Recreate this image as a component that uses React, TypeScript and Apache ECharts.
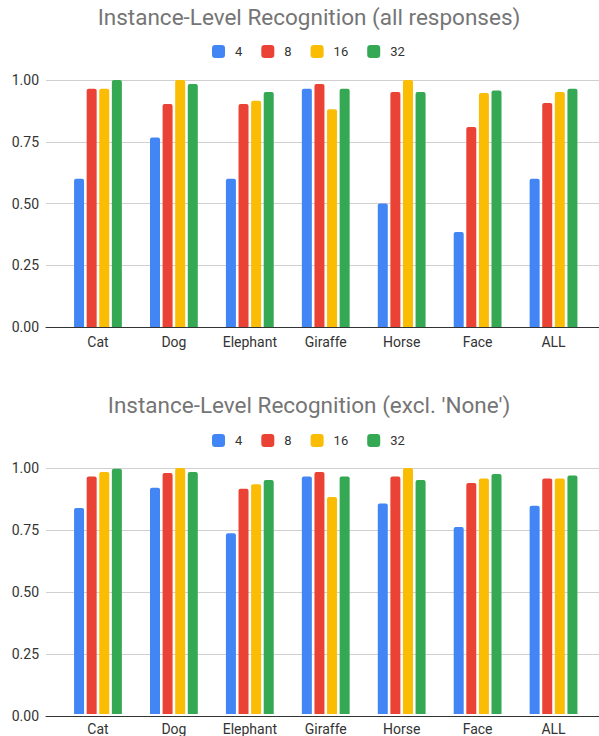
import React, { useEffect, useRef } from "react";
import * as echarts from "echarts";

const categories = ["Cat", "Dog", "Elephant", "Giraffe", "Horse", "Face", "ALL"];
const seriesNames = ["4", "8", "16", "32"];
const colors = ["#4285F4", "#EA4335", "#FBBC04", "#34A853"];

const titleTop = "Instance-Level Recognition (all responses)";
const titleBottom = "Instance-Level Recognition (excl. 'None')";

// all responses
const allS4 = [0.6, 0.767, 0.6, 0.965, 0.5, 0.385, 0.6];
const allS8 = [0.965, 0.903, 0.903, 0.984, 0.951, 0.81, 0.907];
const allS16 = [0.965, 1.0, 0.916, 0.882, 1.0, 0.947, 0.951];
const allS32 = [1.0, 0.984, 0.951, 0.965, 0.951, 0.957, 0.965];

// excl. None
const exS4 = [0.837, 0.92, 0.735, 0.965, 0.856, 0.76, 0.847];
const exS8 = [0.965, 0.98, 0.916, 0.984, 0.965, 0.939, 0.957];
const exS16 = [0.984, 1.0, 0.934, 0.882, 1.0, 0.957, 0.957];
const exS32 = [0.997, 0.984, 0.951, 0.965, 0.951, 0.976, 0.97];

export default function App() {
  const ref = useRef<HTMLDivElement>(null);
  useEffect(() => {
    if (!ref.current) return;
    const chart = echarts.init(ref.current, undefined, { renderer: "svg" });
    const font = "Roboto, Arial, sans-serif";
    const labelColor = "#333";
    const tops = [80, 468];
    const heights = [247, 248];
    const grids: any[] = [];
    const xAxes: any[] = [];
    const yAxes: any[] = [];
    const series: any[] = [];
    const dataSets = [
      [allS4, allS8, allS16, allS32],
      [exS4, exS8, exS16, exS32],
    ];
    for (let c = 0; c < 2; c++) {
      grids.push({ left: 46, right: 0, top: tops[c], height: heights[c] });
      grids.push({ left: 60, right: 7.5, top: tops[c], height: heights[c] });
      const ga = c * 2;
      const gb = c * 2 + 1;
      xAxes.push({
        type: "category",
        gridIndex: ga,
        data: categories,
        axisLine: { show: true, lineStyle: { color: "#333", width: 1 } },
        axisTick: { show: false },
        axisLabel: { show: false },
        splitLine: { show: false },
      });
      xAxes.push({
        type: "category",
        gridIndex: gb,
        data: categories,
        axisLine: { show: false },
        axisTick: { show: false },
        axisLabel: { show: true, color: labelColor, fontSize: 14, fontFamily: font, margin: 8 },
      });
      yAxes.push({
        type: "value",
        gridIndex: ga,
        min: 0,
        max: 1,
        interval: 0.25,
        axisLine: { show: false },
        axisTick: { show: false },
        axisLabel: {
          color: labelColor,
          fontSize: 14,
          fontFamily: font,
          margin: 7,
          formatter: (v: number) => v.toFixed(2),
        },
        splitLine: { show: true, lineStyle: { color: "#d0d0d0", width: 1 } },
      });
      yAxes.push({
        type: "value",
        gridIndex: gb,
        min: 0,
        max: 1,
        interval: 0.25,
        show: false,
        splitLine: { show: false },
      });
      dataSets[c].forEach((d, i) => {
        series.push({
          type: "bar",
          name: seriesNames[i],
          xAxisIndex: gb,
          yAxisIndex: gb,
          data: d,
          barWidth: 10,
          barGap: "26%",
          itemStyle: { color: colors[i], borderRadius: [2, 2, 0, 0] },
        });
      });
    }
    const legendBase = {
      data: seriesNames,
      icon: "roundRect",
      itemWidth: 13,
      itemHeight: 13,
      itemGap: 19,
      left: 212,
      padding: 0,
      textStyle: { color: labelColor, fontSize: 13, fontFamily: font, padding: [0, 0, 0, 5] },
    };
    chart.setOption({
      animation: false,
      color: colors,
      textStyle: { fontFamily: font },
      graphic: [
        {
          type: "text",
          x: 309,
          y: 17,
          style: {
            text: titleTop,
            fill: "#757575",
            fontSize: 22.5,
            fontFamily: font,
            align: "center",
            verticalAlign: "middle",
          },
        },
        {
          type: "text",
          x: 309,
          y: 405,
          style: {
            text: titleBottom,
            fill: "#757575",
            fontSize: 22.5,
            fontFamily: font,
            align: "center",
            verticalAlign: "middle",
          },
        },
      ],
      legend: [
        { ...legendBase, top: 45 },
        { ...legendBase, top: 434 },
      ],
      grid: grids,
      xAxis: xAxes,
      yAxis: yAxes,
      series,
    });
    return () => chart.dispose();
  }, []);
  return <div ref={ref} style={{ width: 599, height: 736, position: "absolute", left: 0, top: 0 }} />;
}
